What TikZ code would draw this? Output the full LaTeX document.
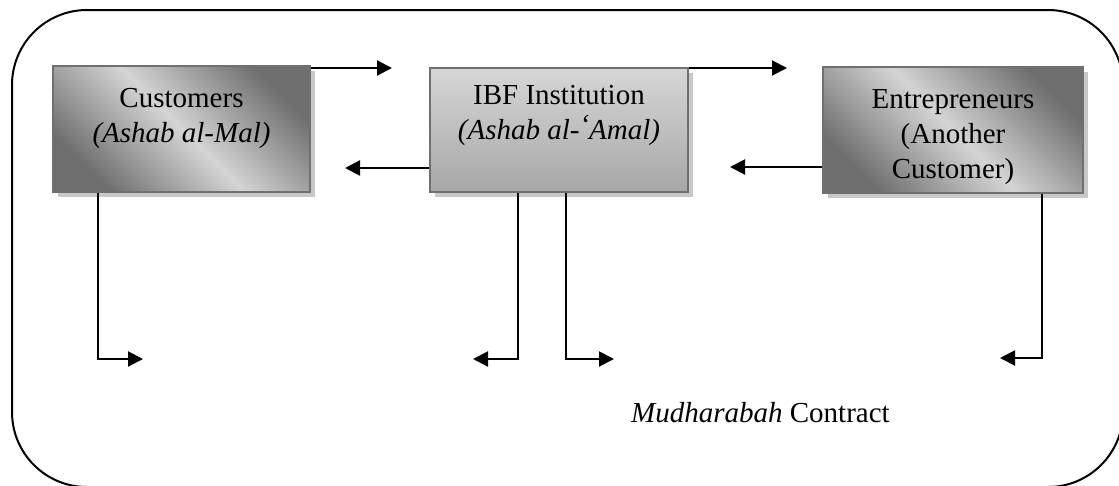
\documentclass[tikz,border=0pt]{standalone}
\usepackage{fontspec}
\setmainfont{Liberation Serif}
\usetikzlibrary{arrows.meta,shadows}
\definecolor{boxdark}{HTML}{6E6E6E}
\definecolor{boxlight}{HTML}{D4D4D4}
\definecolor{boxedge}{HTML}{707070}
\definecolor{shadowgray}{HTML}{C8C8C8}
\tikzset{
  box/.style={draw=boxedge, line width=2.2pt, inner sep=0pt,
    drop shadow={shadow xshift=5pt, shadow yshift=-5pt, fill=shadowgray, opacity=1}},
  diagshade/.style={shading=axis, top color=boxdark, bottom color=boxdark, middle color=boxlight, shading angle=-45},
  vertshade/.style={shading=axis, top color=boxlight!95!white, bottom color=gray!85!black!60},
  boxtext/.style={anchor=north, inner sep=0pt, align=center, font=\fontsize{29}{35}\selectfont},
  arr/.style={line width=2pt, -{Triangle[length=15pt,width=15pt]}},
  frame/.style={line width=2pt, rounded corners=75pt}
}
\begin{document}
\begin{tikzpicture}[x=1pt,y=-1pt]
\useasboundingbox (0,0) rectangle (1119,485);
\begin{scope}
\clip (0,0) rectangle (1119,485);
\draw[frame] (12,10) rectangle (1123,487);
\end{scope}
% boxes
\node[box, diagshade, minimum width=257pt, minimum height=126pt] (cust) at (181.5,129) {};
\node[box, vertshade, minimum width=258pt, minimum height=124pt] (ibf) at (559,130) {};
\node[box, diagshade, minimum width=260pt, minimum height=126pt] (ent) at (953,130) {};
% texts
\node[boxtext] (custtext) at (181.5,85) {\rule{0pt}{22pt}Customers\\\textit{(Ashab al-Mal)}};
\node[boxtext] (ibftext) at (559,82) {\rule{0pt}{22pt}IBF Institution\\\textit{(Ashab al-\raisebox{0.35ex}{\textquoteleft}Amal)}};
\node[boxtext] (enttext) at (953,86) {\rule{0pt}{22pt}Entrepreneurs\\(Another\\Customer)};
\node[anchor=base west, inner sep=0pt, font=\fontsize{29}{35}\selectfont] (contract) at (631,422) {\textit{Mudharabah} Contract};
% free ends
\coordinate (t1) at (392,68);
\coordinate (t2) at (787,68);
\coordinate (l1) at (345,168);
\coordinate (l2) at (730,167);
\coordinate (b1) at (143,359);
\coordinate (b2) at (473,359);
\coordinate (b3) at (614,359);
\coordinate (b4) at (1000,358);
% connectors
\draw[arr] (t1 -| cust.east) -- (t1);
\draw[arr] (t2 -| ibf.east) -- (t2);
\draw[arr] (l1 -| ibf.west) -- (l1);
\draw[arr] (l2 -| ent.west) -- (l2);
\draw[arr] ([xshift=46pt]cust.south west) |- (b1);
\draw[arr] ([xshift=89pt]ibf.south west) |- (b2);
\draw[arr] ([xshift=137pt]ibf.south west) |- (b3);
\draw[arr] ([xshift=220pt]ent.south west) |- (b4);
\end{tikzpicture}
\end{document}
